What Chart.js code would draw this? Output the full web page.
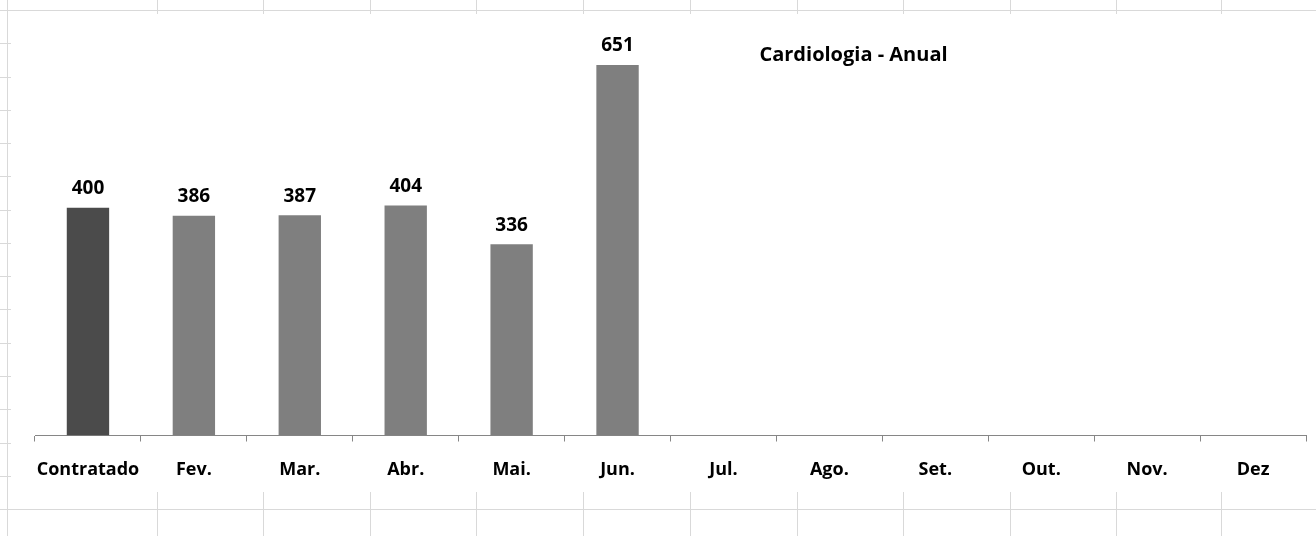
<!DOCTYPE html>
<html>
<head>
<meta charset="utf-8">
<script src="https://cdn.jsdelivr.net/npm/chart.js@4"></script>
<style>
    html, body { margin: 0; padding: 0; background: #fff; width: 1316px; height: 536px; overflow: hidden; }
    #sheet { position: absolute; left: 0; top: 0; width: 1316px; height: 536px; }
    .vl { position: absolute; top: 0; width: 1px; height: 536px; background: #d9d9d9; }
    .hl { position: absolute; left: 0; width: 1316px; height: 1px; background: #d9d9d9; }
    #wrap { position: absolute; left: 11px; top: 14px; width: 1305px; height: 478px; background: #fff; }
</style>
</head>
<body>
<div id="sheet"></div>
<div id="wrap"><canvas id="chart" width="1305" height="478"></canvas></div>
<script>
// Chart data
const categories = ['Contratado', 'Fev.', 'Mar.', 'Abr.', 'Mai.', 'Jun.', 'Jul.', 'Ago.', 'Set.', 'Out.', 'Nov.', 'Dez'];
const values = [400, 386, 387, 404, 336, 651, null, null, null, null, null, null];
const chartTitle = 'Cardiologia - Anual';

const FONT = '"Open Sans", Lato, sans-serif';

// Spreadsheet cell lines behind the chart
const sheet = document.getElementById('sheet');
const colLines = [7, 157, 263, 370, 476, 583, 690, 797, 903, 1010, 1116, 1221];
colLines.forEach(x => {
    const d = document.createElement('div');
    d.className = 'vl';
    d.style.left = x + 'px';
    sheet.appendChild(d);
});
for (let y = 10; y < 536; y += 33.27) {
    const d = document.createElement('div');
    d.className = 'hl';
    d.style.top = Math.round(y) + 'px';
    sheet.appendChild(d);
}

// Value labels above bars + title inside plot
const labelPlugin = {
    id: 'valueLabels',
    afterDatasetsDraw(chart) {
        const ctx = chart.ctx;
        const meta = chart.getDatasetMeta(0);
        ctx.save();
        ctx.fillStyle = '#000';
        ctx.font = `bold 19px ${FONT}`;
        ctx.textAlign = 'center';
        ctx.textBaseline = 'middle';
        meta.data.forEach((bar, i) => {
            if (values[i] == null) return;
            ctx.fillText(values[i], bar.x, bar.y - 19);
        });

        const area = chart.chartArea;
        ctx.font = `bold 20px ${FONT}`;
        ctx.fillText(chartTitle, area.left + area.width * 0.644, 41);
        ctx.restore();
    }
};

new Chart(document.getElementById('chart'), {
    type: 'bar',
    data: {
        labels: categories,
        datasets: [{
            data: values,
            backgroundColor: values.map((v, i) => i === 0 ? '#4b4b4b' : '#7f7f7f'),
            barPercentage: 0.4,
            categoryPercentage: 1.0
        }]
    },
    options: {
        responsive: false,
        animation: false,
        layout: { padding: { top: 23, left: 24, right: 10, bottom: 0 } },
        plugins: {
            legend: { display: false },
            tooltip: { enabled: false },
            title: { display: false }
        },
        scales: {
            y: { display: false, min: 0, max: 700 },
            x: {
                offset: true,
                border: { display: true, color: '#868686', width: 1 },
                grid: {
                    offset: true,
                    drawOnChartArea: false,
                    drawTicks: true,
                    tickLength: 6,
                    color: '#868686'
                },
                ticks: {
                    color: '#000',
                    padding: 18,
                    maxRotation: 0,
                    autoSkip: false,
                    font: { family: FONT, size: 18, weight: 'bold' }
                },
                afterFit: (scale) => { scale.height = 56.5; }
            }
        }
    },
    plugins: [labelPlugin]
});
</script>
</body>
</html>
